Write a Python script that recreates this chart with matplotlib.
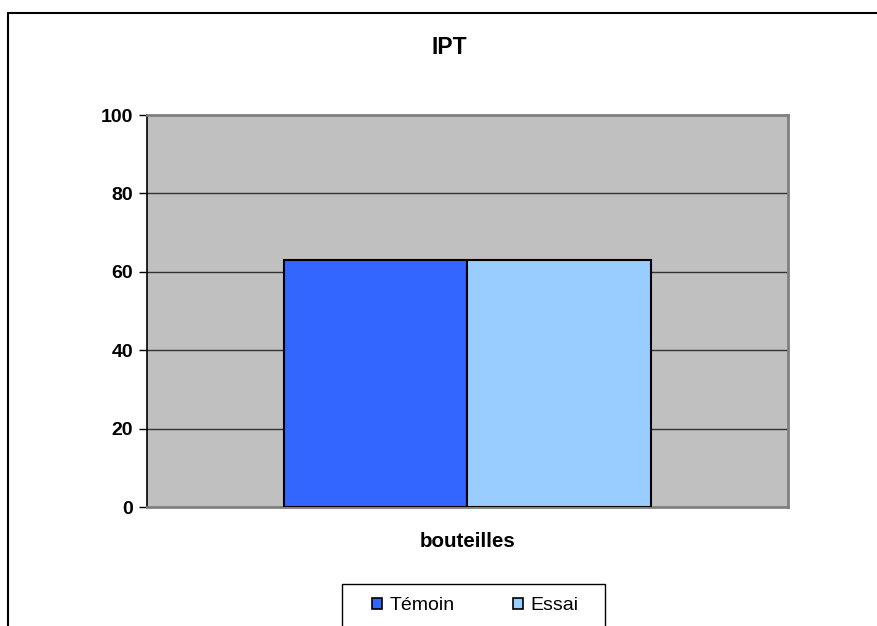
import matplotlib
matplotlib.use('Agg')
import matplotlib.pyplot as plt
from matplotlib.patches import Patch, Rectangle

plt.rcParams['font.family'] = ['Liberation Sans', 'DejaVu Sans']

# Chart data
category = 'bouteilles'
series_names = ['Témoin', 'Essai']
series_values = [63, 63]
series_colors = ['#3366FF', '#99CCFF']
y_ticks = [0, 20, 40, 60, 80, 100]

W, H = 878, 626
fig = plt.figure(figsize=(W / 100, H / 100), dpi=100)

# outer chart frame (runs off the right and bottom edges)
fig.patches.append(Rectangle((8 / W, -0.1), 1.2, 1 - 13 / H + 0.1,
                             transform=fig.transFigure, fill=False,
                             edgecolor='black', linewidth=1.5))

ax = fig.add_axes([147 / W, (H - 507) / H, 641 / W, 392 / H])
ax.set_facecolor('#C0C0C0')

bar_w = 0.2863
offsets = [-bar_w / 2, bar_w / 2]
for name, val, col, off in zip(series_names, series_values, series_colors, offsets):
    ax.bar(off, val, width=bar_w, color=col, edgecolor='black', linewidth=1.5,
           label=name, zorder=3)

ax.set_xlim(-0.5, 0.5)
ax.set_ylim(0, 100)
ax.set_yticks(y_ticks)
ax.set_yticklabels([str(t) for t in y_ticks], fontsize=14, fontweight='bold')
ax.set_xticks([0])
ax.set_xticklabels([category], fontsize=14.8, fontweight='bold')
ax.tick_params(axis='x', length=0, pad=18)
ax.tick_params(axis='y', length=6, width=1, direction='out', pad=4, color='black')

for t in y_ticks[1:-1]:
    ax.axhline(t, color='#333333', linewidth=1, zorder=1)

for side in ['top', 'right', 'bottom']:
    ax.spines[side].set_color('#808080')
    ax.spines[side].set_linewidth(2)
ax.spines['left'].set_color('black')
ax.spines['left'].set_linewidth(1.2)

fig.text(449 / W, 1 - 47 / H, 'IPT', ha='center', va='center',
         fontsize=16.5, fontweight='bold')

# legend box drawn by hand, entries placed inside without a frame
fig.patches.append(Rectangle((342 / W, -0.1), 263 / W, 1 - 584 / H + 0.1,
                             transform=fig.transFigure, fill=False,
                             edgecolor='black', linewidth=1))
handles = [Patch(facecolor=c, edgecolor='black', linewidth=1.2) for c in series_colors]
fig.legend(handles, series_names, loc='center',
           bbox_to_anchor=(475 / W, 1 - 606 / H), ncol=2, fontsize=14,
           frameon=False, handlelength=0.55, handleheight=0.55,
           handletextpad=0.35, columnspacing=3.0, borderpad=0, borderaxespad=0)

fig.savefig('out.png', dpi=100, facecolor='white')
